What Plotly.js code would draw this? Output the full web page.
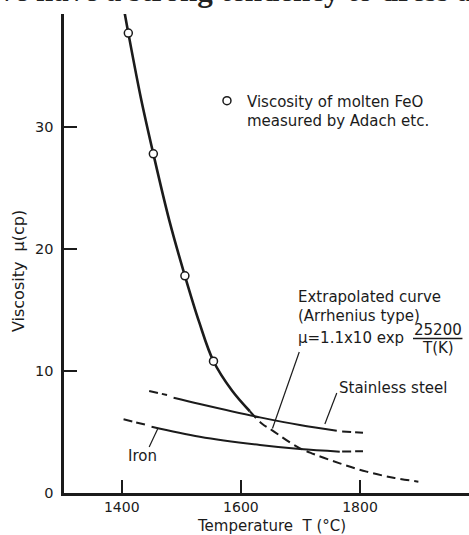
<!DOCTYPE html>
<html>
<head>
<meta charset="utf-8">
<script src="https://cdn.plot.ly/plotly-3.0.1.min.js"></script>
<style>
  html, body { margin: 0; padding: 0; background: #fff; }
  #chart { width: 469px; height: 535px; }
</style>
</head>
<body>
<div id="chart"></div>
<script>
// Measured viscosity of molten FeO (Adachi et al.)
const feoTempC = [1411, 1453, 1506, 1554];
const feoVisc  = [37.7, 27.8, 17.8, 10.8];

// Arrhenius-type curve through the measurements (solid) and its extrapolation (dashed)
const arrTempSolid = [1405, 1411, 1432, 1453, 1480, 1506, 1530, 1554, 1585, 1615];
const arrViscSolid = [39.3, 37.7, 32.4, 27.8, 22.3, 17.8, 14.0, 10.8, 8.4, 6.7];
const arrTempDash  = [1615, 1635, 1652, 1694, 1722, 1766, 1811, 1856, 1898];
const arrViscDash  = [6.7, 5.7, 5.15, 3.8, 3.2, 2.43, 1.75, 1.25, 0.93];

// Stainless steel melt viscosity (dashed ends are extrapolations)
const ssTempSolid = [1487, 1531, 1632, 1699, 1761];
const ssViscSolid = [7.81, 7.30, 6.20, 5.57, 5.11];
const ssTempDash  = [1446, 1476, null, 1770, 1805];
const ssViscDash  = [8.36, 8.03, null, 5.05, 4.94];

// Iron melt viscosity
const feTempSolid = [1450, 1531, 1632, 1699, 1766];
const feViscSolid = [5.43, 4.61, 3.93, 3.60, 3.39];
const feTempDash  = [1403, 1442, null, 1770, 1805];
const feViscDash  = [6.04, 5.57, null, 3.40, 3.42];

// Axis ticks
const xTicks = [1400, 1600, 1800];
const xTickText = ['1400', '1600', '1800'];
const yTicks = [0, 10, 20, 30];
const yTickText = ['0', '10', '20', '30'];

const INK = '#1b1b1b';
const FONT = 'DejaVu Sans, sans-serif';

const traces = [
  { x: arrTempSolid, y: arrViscSolid, mode: 'lines', line: { color: INK, width: 2.6, shape: 'spline' }, showlegend: false, hoverinfo: 'skip' },
  { x: arrTempDash, y: arrViscDash, mode: 'lines', line: { color: INK, width: 2, shape: 'spline', dash: '9px,5px' }, showlegend: false, hoverinfo: 'skip' },
  { x: ssTempSolid, y: ssViscSolid, mode: 'lines', line: { color: INK, width: 2, shape: 'spline' }, showlegend: false, hoverinfo: 'skip' },
  { x: ssTempDash, y: ssViscDash, mode: 'lines', connectgaps: false, line: { color: INK, width: 2, dash: '9px,4px' }, showlegend: false, hoverinfo: 'skip' },
  { x: feTempSolid, y: feViscSolid, mode: 'lines', line: { color: INK, width: 2, shape: 'spline' }, showlegend: false, hoverinfo: 'skip' },
  { x: feTempDash, y: feViscDash, mode: 'lines', connectgaps: false, line: { color: INK, width: 2, dash: '9px,4px' }, showlegend: false, hoverinfo: 'skip' },
  {
    x: feoTempC, y: feoVisc, mode: 'markers',
    name: 'Viscosity of molten FeO<br>measured by Adach etc.',
    marker: { symbol: 'circle', size: 8, color: '#fff', line: { color: INK, width: 1.5 } },
    showlegend: true
  }
];

const labelFont = { family: FONT, size: 15, color: INK };

const layout = {
  width: 469,
  height: 535,
  margin: { l: 64, r: 0, t: 14, b: 42 },
  paper_bgcolor: '#fff',
  plot_bgcolor: '#fff',
  showlegend: true,
  legend: {
    x: 0.353, y: 0.853, xanchor: 'left', yanchor: 'top',
    valign: 'top',
    bgcolor: 'rgba(0,0,0,0)',
    font: { family: FONT, size: 15, color: INK },
    itemwidth: 30
  },
  xaxis: {
    range: [1303, 1983],
    tickmode: 'array', tickvals: xTicks, ticktext: xTickText,
    ticks: 'inside', ticklen: 13, tickwidth: 1.5, tickcolor: INK,
    showline: true, linewidth: 2.6, linecolor: INK,
    showgrid: false, zeroline: false,
    ticklabelstandoff: 0,
    tickfont: { family: FONT, size: 14, color: INK }
  },
  yaxis: {
    range: [0, 39.26],
    tickmode: 'array', tickvals: yTicks, ticktext: yTickText,
    ticks: 'inside', ticklen: 13, tickwidth: 1.5, tickcolor: INK,
    showline: true, linewidth: 2.6, linecolor: INK,
    showgrid: false, zeroline: false,
    ticklabelstandoff: 5,
    tickfont: { family: FONT, size: 14.5, color: INK }
  },
  shapes: [
    // leader lines from labels to their curves
    { type: 'line', xref: 'x', yref: 'y', x0: 1461, y0: 5.33, x1: 1446, y1: 3.77, line: { color: INK, width: 1.2 } },
    { type: 'line', xref: 'x', yref: 'y', x0: 1741, y0: 5.66, x1: 1761, y1: 8.2, line: { color: INK, width: 1.2 } },
    { type: 'line', xref: 'x', yref: 'y', x0: 1653, y0: 5.29, x1: 1698, y1: 11.56, line: { color: INK, width: 1.2 } },
    // fraction bar in the Arrhenius expression
    { type: 'line', xref: 'x', yref: 'y', x0: 1889, y0: 12.66, x1: 1972, y1: 12.66, line: { color: INK, width: 1.4 } }
  ],
  annotations: [
    // running text of the page above the figure
    { xref: 'paper', yref: 'paper', x: -0.165, y: 1.008, xanchor: 'left', yanchor: 'bottom', showarrow: false,
      text: '<b>ve have a strong tendency to dress a</b>',
      font: { family: 'Liberation Serif, serif', size: 31, color: '#222' } },
    // axis titles
    { xref: 'paper', yref: 'paper', x: 0.513, y: -0.068, xanchor: 'center', yanchor: 'middle', showarrow: false,
      borderpad: 0, text: 'Temperature\u00a0\u00a0T (°C)', font: { family: FONT, size: 15, color: INK } },
    { xref: 'paper', yref: 'paper', x: -0.114, y: 0.463, xanchor: 'center', yanchor: 'middle', showarrow: false,
      textangle: -90, text: 'Viscosity\u00a0\u00a0μ(cp)', font: { family: FONT, size: 16, color: INK } },
    // curve labels
    { xref: 'x', yref: 'y', x: 1693, y: 16.07, xanchor: 'left', yanchor: 'middle', showarrow: false,
      text: 'Extrapolated curve', font: labelFont },
    { xref: 'x', yref: 'y', x: 1692, y: 14.5, xanchor: 'left', yanchor: 'middle', showarrow: false,
      text: '(Arrhenius type)', font: labelFont },
    { xref: 'x', yref: 'y', x: 1692, y: 12.7, xanchor: 'left', yanchor: 'middle', showarrow: false,
      text: 'μ=1.1x10 exp', font: labelFont },
    { xref: 'x', yref: 'y', x: 1931, y: 13.4, xanchor: 'center', yanchor: 'middle', showarrow: false,
      borderpad: 0, text: '25200', font: labelFont },
    { xref: 'x', yref: 'y', x: 1931, y: 11.9, xanchor: 'center', yanchor: 'middle', showarrow: false,
      borderpad: 0, text: 'T(K)', font: labelFont },
    { xref: 'x', yref: 'y', x: 1762, y: 8.6, xanchor: 'left', yanchor: 'middle', showarrow: false,
      text: 'Stainless steel', font: labelFont },
    { xref: 'x', yref: 'y', x: 1434, y: 3.03, xanchor: 'center', yanchor: 'middle', showarrow: false,
      text: 'Iron', font: labelFont }
  ]
};

Plotly.newPlot('chart', traces, layout, { staticPlot: true, displayModeBar: false });
</script>
</body>
</html>
